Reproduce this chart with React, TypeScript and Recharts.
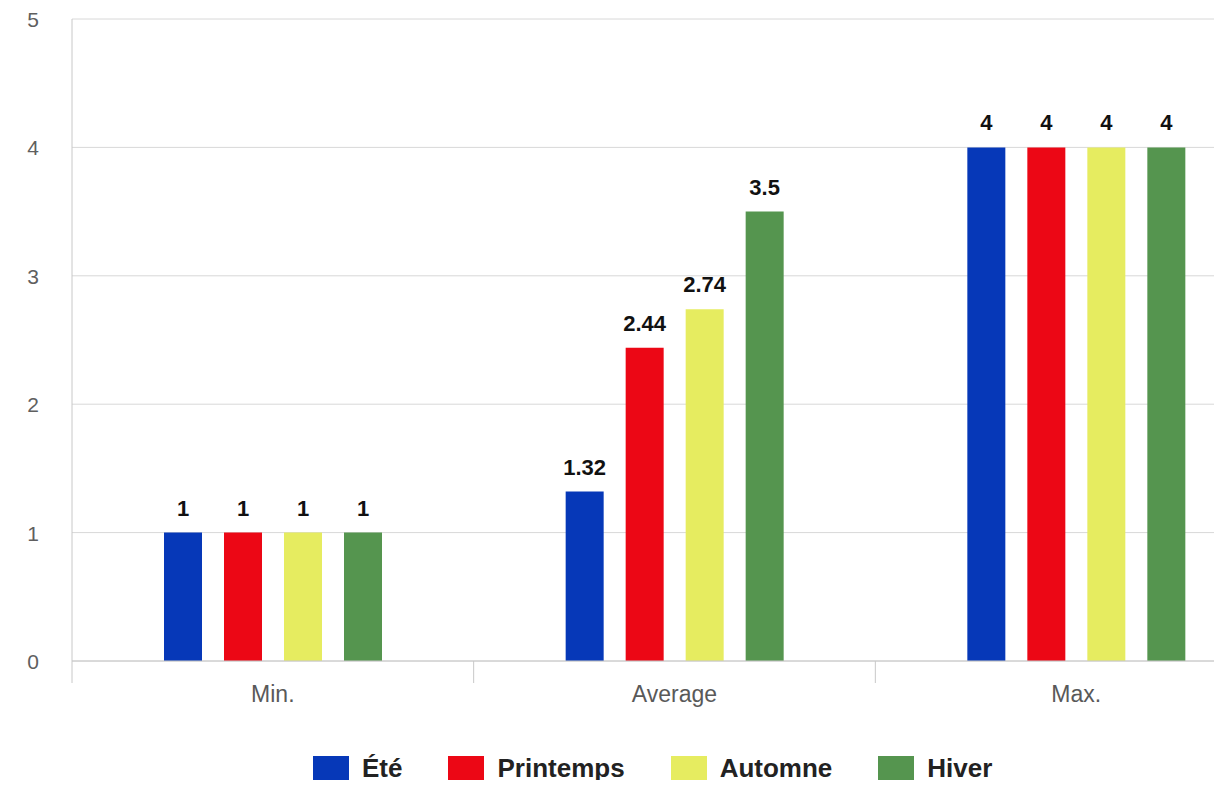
import React from "react";
import {
  BarChart,
  Bar,
  XAxis,
  YAxis,
  CartesianGrid,
  Legend,
  LabelList,
} from "recharts";

const categories = ["Min.", "Average", "Max."];
const ete = [1, 1.32, 4];
const printemps = [1, 2.44, 4];
const automne = [1, 2.74, 4];
const hiver = [1, 3.5, 4];
const yTicks = [0, 1, 2, 3, 4, 5];

const series = [
  { key: "ete", name: "Été", color: "#0638b8" },
  { key: "printemps", name: "Printemps", color: "#ec0715" },
  { key: "automne", name: "Automne", color: "#e6ec60" },
  { key: "hiver", name: "Hiver", color: "#55954f" },
];

const data = categories.map((name, i) => ({
  name,
  ete: ete[i],
  printemps: printemps[i],
  automne: automne[i],
  hiver: hiver[i],
}));

const FONT = "'Liberation Sans', Arial, sans-serif";

// category label plus the separator tick at the left edge of each band
const CategoryTick = (props: any) => {
  const { x, y, payload, index, visibleTicksCount } = props;
  const half = payload?.offset ?? 0;
  return (
    <g>
      <line x1={x - half} y1={y} x2={x - half} y2={y + 22} stroke="#c8c8c8" />
      {index === visibleTicksCount - 1 && (
        <line x1={x + half} y1={y} x2={x + half} y2={y + 22} stroke="#c8c8c8" />
      )}
      <text
        x={x}
        y={y + 41}
        textAnchor="middle"
        fill="#595959"
        fontSize={23}
        fontFamily={FONT}
      >
        {payload.value}
      </text>
    </g>
  );
};

const ValueTick = (props: any) => {
  const { x, y, payload } = props;
  return (
    <text
      x={x}
      y={y + 8}
      textAnchor="end"
      fill="#5f5f5f"
      fontSize={21}
      fontFamily={FONT}
    >
      {payload.value}
    </text>
  );
};

// keep the legend in series order (recharts sorts it by name otherwise)
const LegendContent = () => (
  <div style={{ display: "flex", alignItems: "center", fontFamily: FONT }}>
    {series.map((s) => (
      <div
        key={s.key}
        style={{ display: "flex", alignItems: "center", marginRight: 46 }}
      >
        <span
          style={{
            display: "inline-block",
            width: 36,
            height: 25,
            background: s.color,
            marginRight: 13,
          }}
        />
        <span style={{ fontSize: 26, fontWeight: "bold", color: "#222" }}>
          {s.name}
        </span>
      </div>
    ))}
  </div>
);

export default function App() {
  return (
    <div
      style={{
        width: 1222,
        height: 788,
        overflow: "hidden",
        margin: -8,
        position: "relative",
        background: "#fff",
      }}
    >
      <BarChart
        width={1300}
        height={788}
        data={data}
        margin={{ top: 19, right: 23, bottom: 87, left: 0 }}
        barSize={38}
        barGap={22}
        style={{ fontFamily: FONT }}
      >
        <CartesianGrid vertical={false} stroke="#d8d8d8" />
        <XAxis
          dataKey="name"
          height={40}
          tickLine={false}
          tickSize={0}
          tickMargin={0}
          axisLine={{ stroke: "#c8c8c8" }}
          tick={<CategoryTick />}
          interval={0}
        />
        <YAxis
          width={72}
          domain={[0, 5]}
          ticks={yTicks}
          tickLine={false}
          tickSize={0}
          tickMargin={33}
          axisLine={{ stroke: "#c8c8c8" }}
          tick={<ValueTick />}
        />
        <Legend
          layout="horizontal"
          verticalAlign="middle"
          align="center"
          content={<LegendContent />}
          wrapperStyle={{ left: 313, top: 753, width: 800, height: 30 }}
        />
        {series.map((s) => (
          <Bar
            key={s.key}
            dataKey={s.key}
            name={s.name}
            fill={s.color}
            isAnimationActive={false}
          >
            <LabelList
              dataKey={s.key}
              position="top"
              offset={17}
              fill="#111"
              fontSize={22}
              fontWeight="bold"
              fontFamily={FONT}
            />
          </Bar>
        ))}
      </BarChart>
    </div>
  );
}
